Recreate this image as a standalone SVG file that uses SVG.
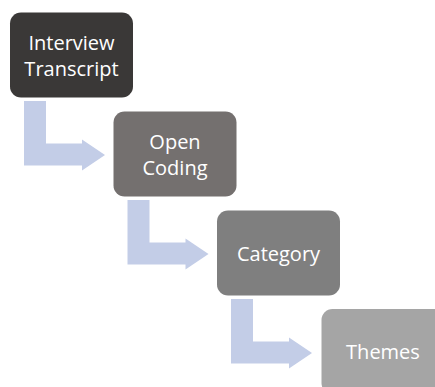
<svg xmlns="http://www.w3.org/2000/svg" width="435" height="387" viewBox="0 0 435 387">
  <style>
    .box { stroke: none; }
    .label { font-family: "Open Sans", "Liberation Sans", sans-serif; font-size: 20px; fill: #ffffff; text-anchor: middle; }
    .bend { fill: #c3cde7; stroke: none; }
  </style>
  <rect width="435" height="387" fill="#ffffff"/>

  <!-- bent arrows between steps -->
  <g id="connectors">
    <path class="bend" d="M24,101 H46 V143.5 H82 V139.5 L105,155 L82,170.5 V165.5 H24 Z"/>
    <path class="bend" d="M127.5,200 H149.5 V242.5 H185.5 V238.5 L208.5,254 L185.5,269.5 V264.5 H127.5 Z"/>
    <path class="bend" d="M231,299 H253 V341.5 H289 V337.5 L312,353 L289,368.5 V363.5 H231 Z"/>
  </g>

  <g id="interview-transcript">
    <rect class="box" x="10" y="12.5" width="123" height="85" rx="11" fill="#3a3837"/>
    <text class="label" x="71.5" y="50">Interview</text>
    <text class="label" x="71.5" y="76">Transcript</text>
  </g>

  <g id="open-coding">
    <rect class="box" x="113.5" y="111.5" width="123" height="85" rx="11" fill="#74706f"/>
    <text class="label" x="175" y="149">Open</text>
    <text class="label" x="175" y="175">Coding</text>
  </g>

  <g id="category">
    <rect class="box" x="217" y="210.5" width="123" height="85" rx="11" fill="#7f7f7f"/>
    <text class="label" x="278.5" y="261">Category</text>
  </g>

  <g id="themes">
    <rect class="box" x="321.5" y="309" width="123" height="85" rx="11" fill="#a5a5a5"/>
    <text class="label" x="383" y="358.5">Themes</text>
  </g>
</svg>
